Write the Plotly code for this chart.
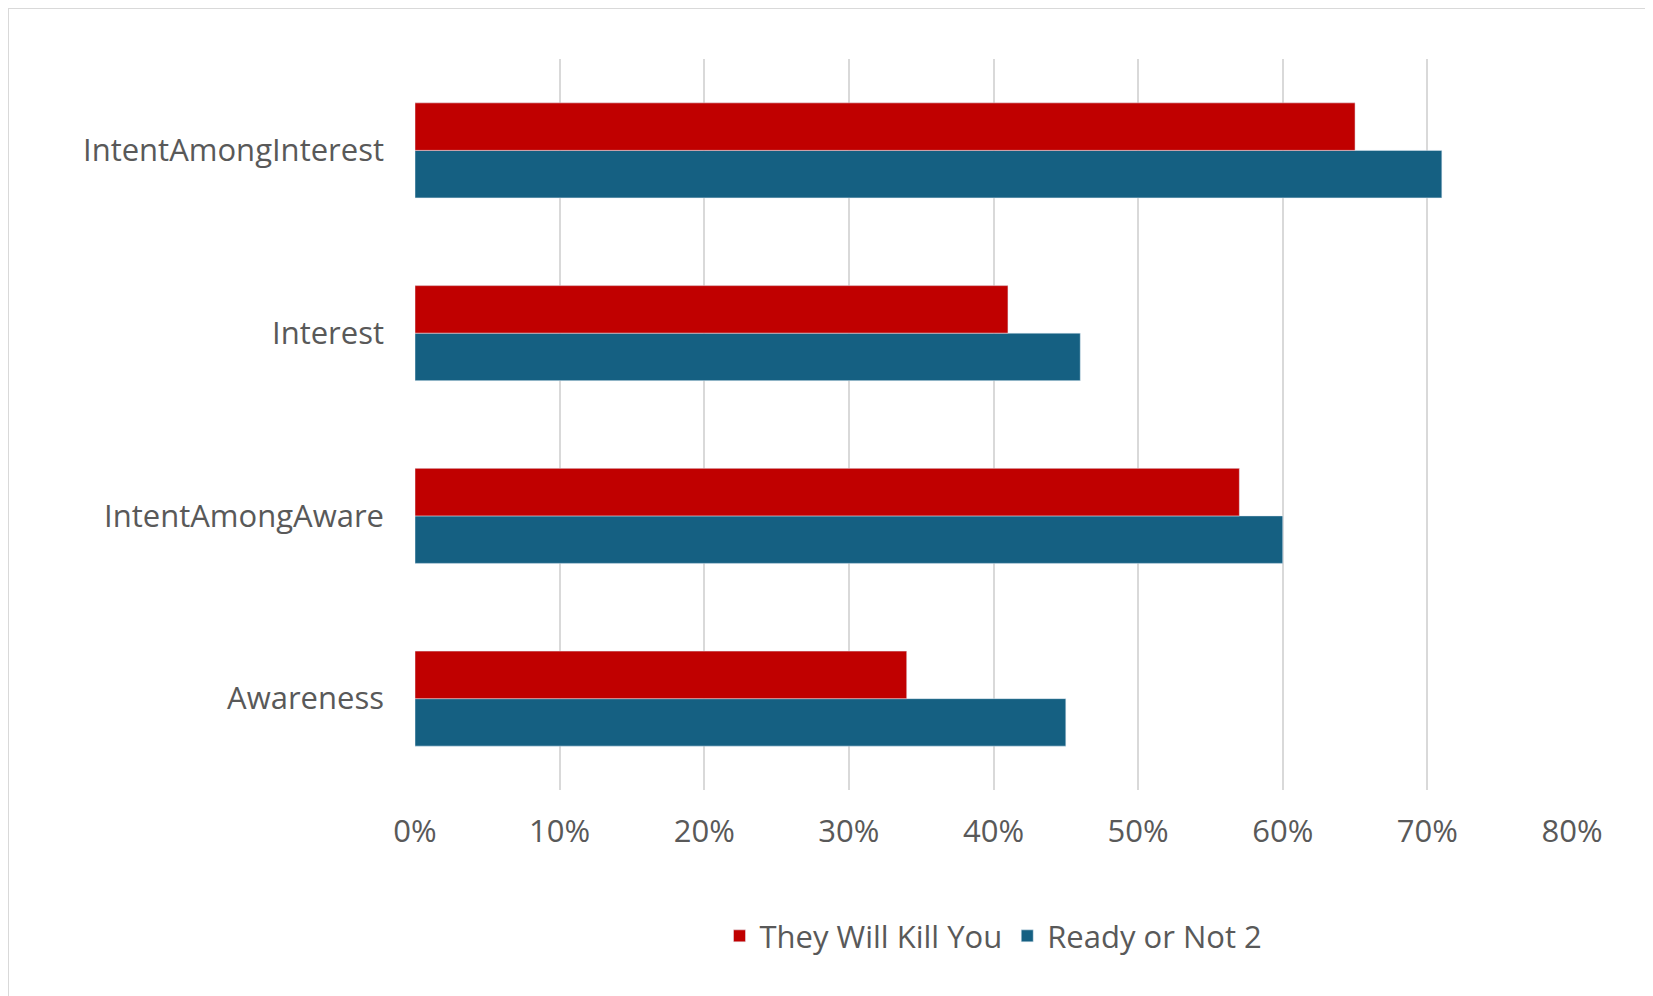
import plotly.graph_objects as go

categories = ["Awareness", "IntentAmongAware", "Interest", "IntentAmongInterest"]
they_will_kill_you = [0.34, 0.57, 0.41, 0.65]
ready_or_not_2 = [0.45, 0.60, 0.46, 0.71]
tick_vals = [0, 0.1, 0.2, 0.3, 0.4, 0.5, 0.6, 0.7, 0.8]

fig = go.Figure()
# blue first so it sits below red within each group
fig.add_trace(go.Bar(y=categories, x=ready_or_not_2, orientation='h',
                     name='Ready or Not 2', marker_color='#156082'))
fig.add_trace(go.Bar(y=categories, x=they_will_kill_you, orientation='h',
                     name='They Will Kill You', marker_color='#C00000'))

fig.update_layout(
    width=1653, height=996,
    barmode='group', bargap=0.48, bargroupgap=0,
    paper_bgcolor='white', plot_bgcolor='white',
    font=dict(family='Open Sans, sans-serif', size=31, color='#595959'),
    margin=dict(l=407, r=89, t=51, b=214),
    legend=dict(orientation='h', traceorder='reversed', x=0.5, xanchor='center',
                y=-0.2, yanchor='middle', font=dict(size=31, color='#595959')),
    shapes=[dict(type='rect', xref='paper', yref='paper', x0=-407/1157, x1=1+89/1157,
                 y0=-214/731, y1=1+51/731, line=dict(color='#d9d9d9', width=2))],
)
fig.update_xaxes(range=[0, 0.8], tickvals=tick_vals, tickformat='.0%',
                 gridcolor='#d9d9d9', gridwidth=2, zeroline=False, showline=False,
                 ticks='', ticklabelstandoff=20)
fig.update_yaxes(showgrid=False, ticks='', ticklabelstandoff=30)

fig.write_html("out.html")
